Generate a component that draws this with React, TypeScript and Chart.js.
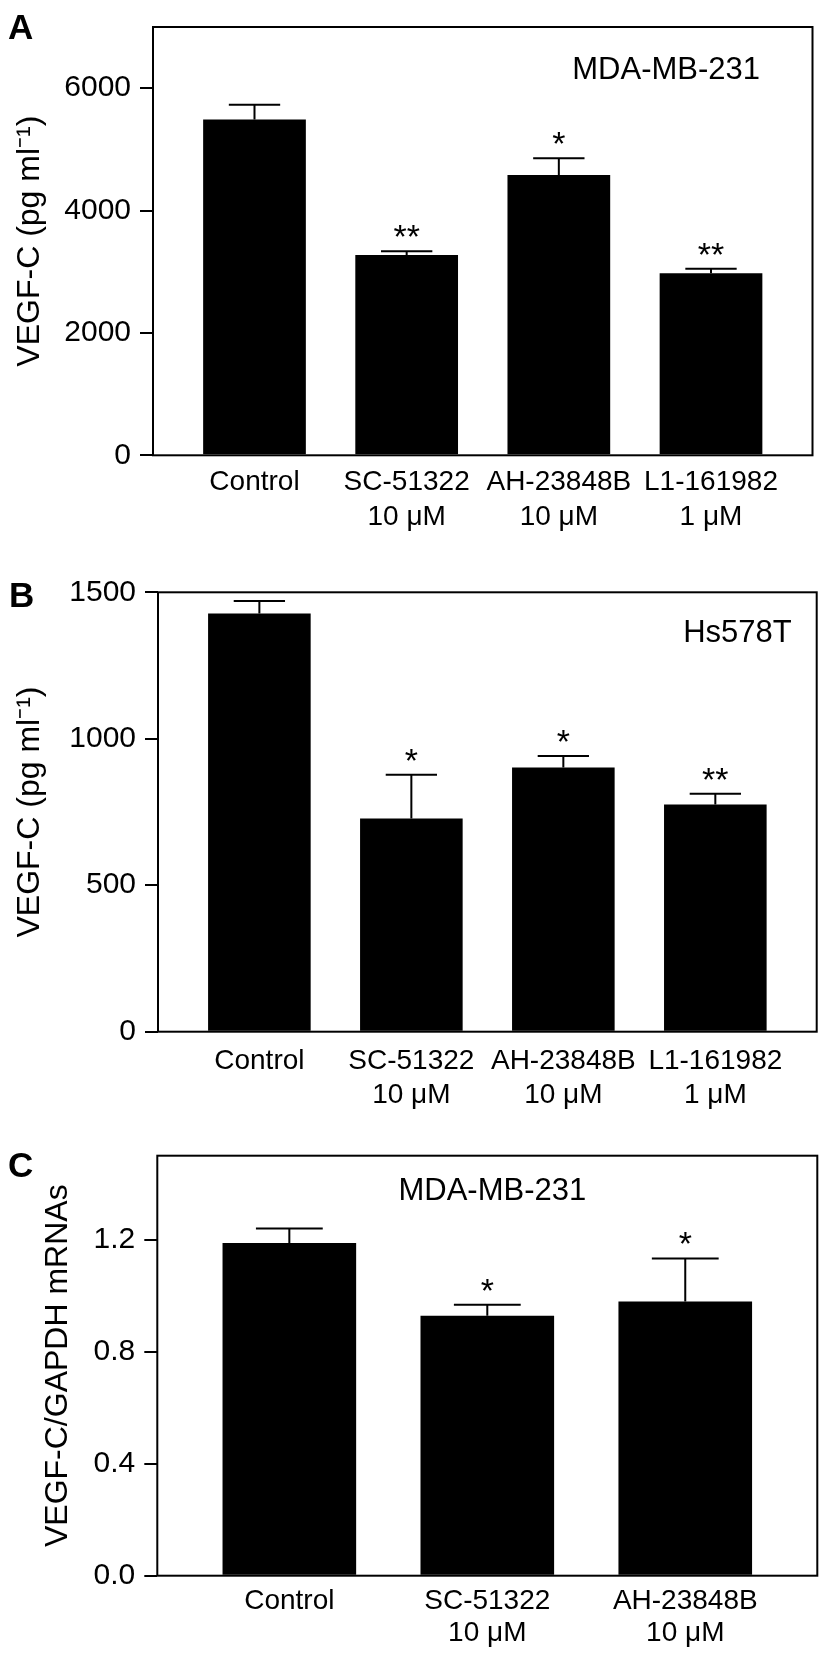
import React, { useEffect, useRef } from "react";
import { Chart, registerables } from "chart.js";

Chart.register(...registerables);

const FONT = "'Liberation Sans', Arial, Helvetica, sans-serif";

// ---------- data ----------
const drugLabels = ["Control", "SC-51322", "AH-23848B", "L1-161982"];
const doseLabels = ["", "10 μM", "10 μM", "1 μM"];

const panelAValues = [5490, 3272, 4583, 2974];
const panelAErrors = [240, 64, 270, 75];
const panelAStars = ["", "**", "*", "**"];
const panelATicks = [0, 2000, 4000, 6000];

const panelBValues = [1428, 728, 902, 776];
const panelBErrors = [42, 149, 39, 36];
const panelBStars = ["", "*", "*", "**"];
const panelBTicks = [0, 500, 1000, 1500];

const drugLabelsC = ["Control", "SC-51322", "AH-23848B"];
const doseLabelsC = ["", "10 μM", "10 μM"];
const panelCValues = [1.188, 0.928, 0.979];
const panelCErrors = [0.052, 0.04, 0.154];
const panelCStars = ["", "*", "*"];
const panelCTicks = [0, 0.4, 0.8, 1.2];

type Spec = {
  letter: string;
  title: string;
  yTitle: string;
  drugs: string[];
  doses: string[];
  values: number[];
  errors: number[];
  stars: string[];
  yTicks: number[];
  yMax: number;
  decimals: number;
  top: number;
  height: number;
  padTop: number;
  padRight: number;
  yWidth: number;
  xHeight: number;
  yTitlePad: number;
  xLineHeight: number;
  xPad: number;
  letterX: number;
  letterY: number;
  titleAlign: "right" | "center";
  titleDX: number;
  titleDY: number;
};

const specs: Spec[] = [
  {
    letter: "A",
    title: "MDA-MB-231",
    yTitle: "VEGF-C (pg ml\u207B\u00B9)",
    drugs: drugLabels,
    doses: doseLabels,
    values: panelAValues,
    errors: panelAErrors,
    stars: panelAStars,
    yTicks: panelATicks,
    yMax: 7000,
    decimals: 0,
    top: 0,
    height: 550,
    padTop: 15,
    padRight: 11.5,
    yWidth: 153,
    xHeight: 550 - 455.3,
    yTitlePad: 11,
    xLineHeight: 1.23,
    xPad: 10,
    letterX: 8,
    letterY: 39,
    titleAlign: "right",
    titleDX: -52.5,
    titleDY: 51.7,
  },
  {
    letter: "B",
    title: "Hs578T",
    yTitle: "VEGF-C (pg ml\u207B\u00B9)",
    drugs: drugLabels,
    doses: doseLabels,
    values: panelBValues,
    errors: panelBErrors,
    stars: panelBStars,
    yTicks: panelBTicks,
    yMax: 1500,
    decimals: 0,
    top: 560,
    height: 560,
    padTop: 32.3,
    padRight: 7.3,
    yWidth: 158,
    xHeight: 560 - 471.7,
    yTitlePad: 11,
    xLineHeight: 1.23,
    xPad: 12,
    letterX: 9,
    letterY: 47,
    titleAlign: "right",
    titleDX: -25,
    titleDY: 49.4,
  },
  {
    letter: "C",
    title: "MDA-MB-231",
    yTitle: "VEGF-C/GAPDH mRNAs",
    drugs: drugLabelsC,
    doses: doseLabelsC,
    values: panelCValues,
    errors: panelCErrors,
    stars: panelCStars,
    yTicks: panelCTicks,
    yMax: 1.5,
    decimals: 1,
    top: 1125,
    height: 553,
    padTop: 30.7,
    padRight: 6.7,
    yWidth: 157.3,
    xHeight: 553 - 450.7,
    yTitlePad: 39,
    xLineHeight: 1.14,
    xPad: 10,
    letterX: 8,
    letterY: 51.7,
    titleAlign: "center",
    titleDX: 5,
    titleDY: 44.3,
  },
];

function Panel({ spec }: { spec: Spec }) {
  const ref = useRef<HTMLCanvasElement>(null);

  useEffect(() => {
    if (!ref.current) return;
    const n = spec.values.length;
    const side = 0.667;

    const annotations = {
      id: "annotations",
      afterDatasetsDraw(chart: any) {
        const ctx = chart.ctx as CanvasRenderingContext2D;
        const area = chart.chartArea;
        const ys = chart.scales.y;
        const meta = chart.getDatasetMeta(0);
        ctx.save();
        ctx.strokeStyle = "#000";
        ctx.fillStyle = "#000";
        ctx.lineWidth = 2;
        meta.data.forEach((bar: any, i: number) => {
          const x = bar.x;
          const yTop = bar.y;
          const yErr = ys.getPixelForValue(spec.values[i] + spec.errors[i]);
          const half = bar.width / 4;
          ctx.beginPath();
          ctx.moveTo(x, yTop);
          ctx.lineTo(x, yErr);
          ctx.moveTo(x - half, yErr);
          ctx.lineTo(x + half, yErr);
          ctx.stroke();
          if (spec.stars[i]) {
            ctx.font = `34px ${FONT}`;
            ctx.textAlign = "center";
            ctx.textBaseline = "alphabetic";
            ctx.fillText(spec.stars[i], x, yErr - 3);
          }
        });
        ctx.strokeRect(area.left, area.top, area.right - area.left, area.bottom - area.top);

        ctx.textBaseline = "alphabetic";
        ctx.font = `bold 35px ${FONT}`;
        ctx.textAlign = "left";
        ctx.fillText(spec.letter, spec.letterX, spec.letterY);

        ctx.font = `31px ${FONT}`;
        ctx.textAlign = spec.titleAlign;
        const tx =
          spec.titleAlign === "right"
            ? area.right + spec.titleDX
            : (area.left + area.right) / 2 + spec.titleDX;
        ctx.fillText(spec.title, tx, area.top + spec.titleDY);
        ctx.restore();
      },
    };

    const chart = new Chart(ref.current, {
      type: "bar",
      data: {
        datasets: [
          {
            data: spec.values.map((v, i) => ({ x: i, y: v })),
            backgroundColor: "#000",
            borderWidth: 0,
            barPercentage: 0.675,
            categoryPercentage: 1,
          },
        ],
      },
      options: {
        animation: false,
        responsive: true,
        maintainAspectRatio: false,
        events: [],
        layout: { padding: { top: spec.padTop, right: spec.padRight, left: 0, bottom: 0 } },
        plugins: { legend: { display: false }, tooltip: { enabled: false } },
        scales: {
          x: {
            type: "linear",
            min: -side,
            max: n - 1 + side,
            offset: false,
            grid: { display: false, drawTicks: false },
            border: { display: false },
            afterBuildTicks: (scale: any) => {
              scale.ticks = spec.drugs.map((_, i) => ({ value: i }));
            },
            afterFit: (scale: any) => {
              scale.height = spec.xHeight;
            },
            ticks: {
              autoSkip: false,
              maxRotation: 0,
              minRotation: 0,
              padding: spec.xPad,
              color: "#000",
              font: { family: FONT, size: 28, lineHeight: spec.xLineHeight },
              callback: (value: any) => {
                const i = Math.round(Number(value));
                return spec.doses[i] ? [spec.drugs[i], spec.doses[i]] : spec.drugs[i];
              },
            },
          },
          y: {
            type: "linear",
            min: 0,
            max: spec.yMax,
            grid: {
              display: true,
              drawOnChartArea: false,
              drawTicks: true,
              tickLength: 13,
              color: "#000",
              lineWidth: 2,
            },
            border: { display: false },
            afterBuildTicks: (scale: any) => {
              scale.ticks = spec.yTicks.map((v) => ({ value: v }));
            },
            afterFit: (scale: any) => {
              scale.width = spec.yWidth;
            },
            ticks: {
              padding: 9,
              color: "#000",
              font: { family: FONT, size: 30 },
              callback: (value: any) => Number(value).toFixed(spec.decimals),
            },
            title: {
              display: true,
              text: spec.yTitle,
              color: "#000",
              font: { family: FONT, size: 32 },
              padding: { top: spec.yTitlePad, bottom: 0 },
            },
          },
        },
      },
      plugins: [annotations],
    } as any);

    return () => chart.destroy();
  }, [spec]);

  return (
    <div
      style={{
        position: "absolute",
        left: 0,
        top: spec.top,
        width: 824,
        height: spec.height,
      }}
    >
      <canvas ref={ref} style={{ display: "block" }} />
    </div>
  );
}

export default function App() {
  return (
    <div
      style={{
        position: "absolute",
        left: 0,
        top: 0,
        width: 824,
        height: 1678,
        background: "#fff",
        overflow: "hidden",
      }}
    >
      {specs.map((s) => (
        <Panel key={s.letter} spec={s} />
      ))}
    </div>
  );
}
